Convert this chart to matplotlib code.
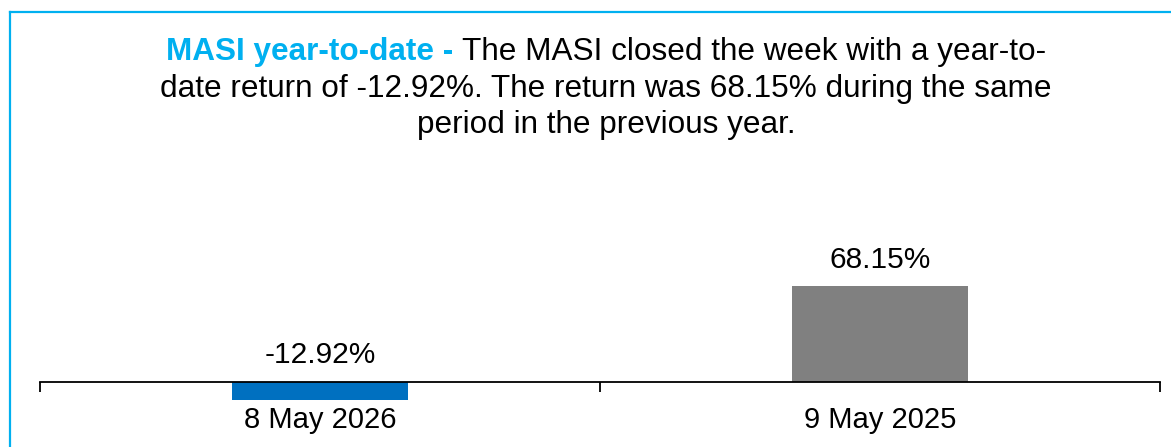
import matplotlib.pyplot as plt
from matplotlib.lines import Line2D

plt.rcParams['font.family'] = ['Liberation Sans', 'DejaVu Sans']

# data
categories = ['8 May 2026', '9 May 2025']
returns = [-12.92, 68.15]
bar_colors = ['#0070C0', '#808080']
title_lead = 'MASI year-to-date - '
title_lines = ['The MASI closed the week with a year-to-',
               'date return of -12.92%. The return was 68.15% during the same',
               'period in the previous year.']

W, H = 1171, 447
fig = plt.figure(figsize=(W / 100, H / 100), dpi=100)

def fx(px):
    return px / W

def fy(py):
    return 1 - py / H

# border (left and top only, as in the source)
accent = '#00B0F0'
fig.add_artist(Line2D([fx(10), fx(10)], [0, fy(12)], color=accent, lw=1.6))
fig.add_artist(Line2D([fx(10), 1], [fy(12), fy(12)], color=accent, lw=1.6))

# axes: zero line at y=381.5px, 1.4 px per percentage point
top_px, bot_px, zero_px, scale = 150, 440, 381.5, 1.40
ax = fig.add_axes([fx(40), fy(bot_px), fx(1160) - fx(40), (bot_px - top_px) / H])
ax.set_xlim(-0.5, 1.5)
ax.set_ylim(-(bot_px - zero_px) / scale, (zero_px - top_px) / scale)
ax.patch.set_visible(False)

x = list(range(len(categories)))
ax.bar(x, returns, width=0.314, color=bar_colors, zorder=1)
for xi, v in zip(x, returns):
    ax.annotate(f'{v:.2f}%', (xi, max(v, 0)), xytext=(0, 9), textcoords='offset points',
                ha='center', va='bottom', fontsize=21.5, color='black')

for s in ['left', 'right', 'top']:
    ax.spines[s].set_visible(False)
ax.spines['bottom'].set_position(('data', 0))
ax.spines['bottom'].set_linewidth(1.3)
ax.spines['bottom'].set_zorder(3)
ax.set_yticks([])
ax.set_xticks([-0.5, 0.5, 1.5])
ax.set_xticklabels([])
ax.tick_params(axis='x', which='major', length=7, width=1.3, direction='out')
ax.set_xticks(x, minor=True)
ax.set_xticklabels(categories, minor=True, fontsize=21)
ax.tick_params(axis='x', which='minor', length=0, pad=18)

# title, line by line, with a coloured lead-in on the first line
cx = 606
tsize = 22.7
baselines = [60, 97, 133]
fig.canvas.draw()
r = fig.canvas.get_renderer()
lead = fig.text(0, fy(baselines[0]), title_lead, fontsize=tsize, fontweight='bold',
                color=accent, va='baseline', ha='left')
rest = fig.text(0, fy(baselines[0]), title_lines[0], fontsize=tsize, color='black',
                va='baseline', ha='left')
w1 = lead.get_window_extent(r).width
w2 = rest.get_window_extent(r).width
start = cx - (w1 + w2) / 2
lead.set_x(fx(start))
rest.set_x(fx(start + w1))
for line, b in zip(title_lines[1:], baselines[1:]):
    fig.text(fx(cx), fy(b), line, fontsize=tsize, color='black', va='baseline', ha='center')

fig.savefig('out.png', dpi=100)
